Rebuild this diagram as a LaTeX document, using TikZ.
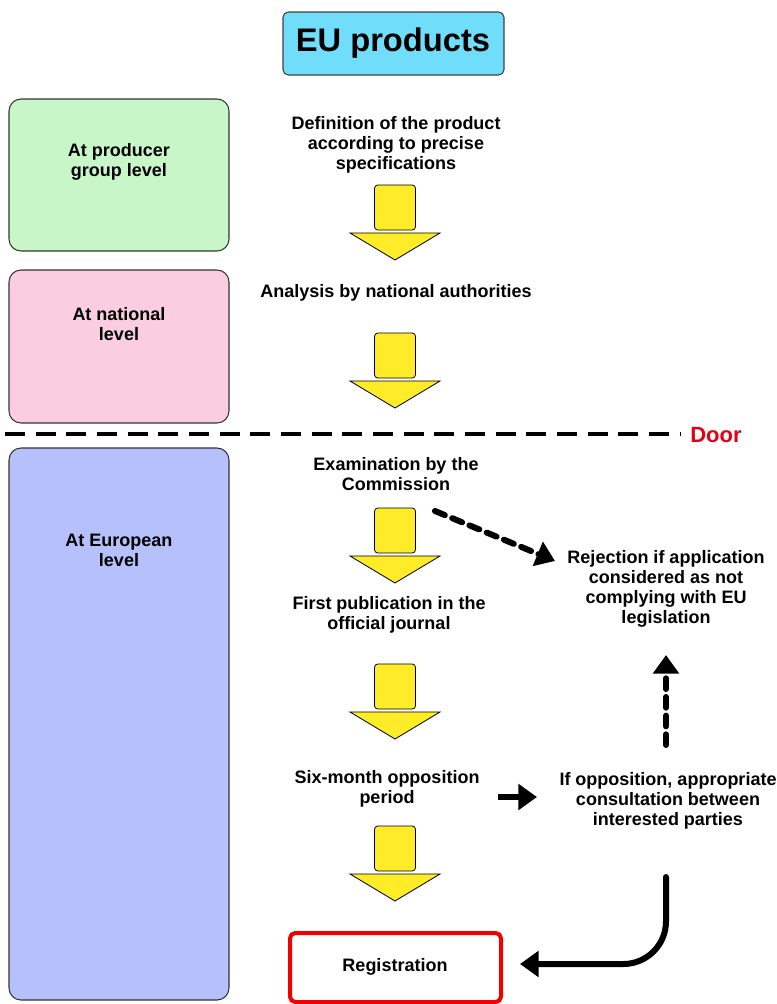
\documentclass[tikz,border=0pt]{standalone}
\usepackage{fontspec}
\setmainfont{Liberation Sans}
\usetikzlibrary{arrows.meta}
\definecolor{titlecyan}{RGB}{112,222,250}
\definecolor{grpgreen}{RGB}{200,246,200}
\definecolor{natpink}{RGB}{250,206,224}
\definecolor{eublue}{RGB}{182,192,250}
\definecolor{arrowyellow}{RGB}{255,236,40}
\definecolor{doorred}{RGB}{225,0,20}
\definecolor{regred}{RGB}{240,0,0}
\tikzset{
  txt/.style={font=\bfseries\fontsize{13.5}{15}\selectfont, align=center, inner sep=0pt},
  levelbox/.style={draw=black!80, line width=0.8pt, rounded corners=9pt},
  yrect/.style={draw=black, line width=0.6pt, fill=arrowyellow, rounded corners=2.5pt},
  ytri/.style={draw=black, line width=0.6pt, fill=arrowyellow},
  bigarrow/.style={line width=4.5pt, -{Triangle[length=14pt,width=19pt]}},
  dasharrow/.style={bigarrow, dash pattern=on 8pt off 6pt, line cap=round},
}
\newcommand{\yarrow}[2]{%
  \draw[yrect] (#1-20.5,#2) rectangle (#1+20.5,#2+45);
  \draw[ytri] (#1-45,#2+48) -- (#1+45,#2+48) -- (#1,#2+75) -- cycle;
}
\begin{document}
\begin{tikzpicture}[x=0.75pt,y=-0.75pt]
\useasboundingbox (0,0) rectangle (777,1004);
% title
\draw[draw=black!75, line width=0.8pt, fill=titlecyan, rounded corners=4pt] (283,12) rectangle (504,75);
\node[font=\bfseries\fontsize{24.5}{28}\selectfont, inner sep=0pt] (title) at (393,43) {EU products};
% level boxes
\draw[levelbox, fill=grpgreen] (9,99) rectangle (229,251);
\node[txt] (grp) at (119,162) {At producer\\group level};
\draw[levelbox, fill=natpink] (9,270) rectangle (229,423);
\node[txt] (nat) at (119,324) {At national\\level};
\draw[levelbox, fill=eublue] (9,448) rectangle (229,1000);
\node[txt] (eur) at (119,550) {At European\\level};
% door line
\coordinate (doorL) at (5,434);
\node[font=\bfseries\fontsize{16.5}{18}\selectfont, text=doorred, inner sep=0pt, anchor=west] (door) at (690,435) {Door};
\draw[line width=2.3pt, dash pattern=on 15pt off 8pt, shorten >=7pt] (doorL) -- (door.west |- doorL);
% steps
\node[txt] (def) at (396,145) {Definition of the product\\according to precise\\specifications};
\yarrow{395}{185}
\node[txt] (ana) at (396,293) {Analysis by national authorities};
\yarrow{395}{333}
\node[txt] (exa) at (396,474.5) {Examination by the\\Commission};
\yarrow{395}{508}
\node[txt] (pub) at (389,615) {First publication in the\\official journal};
\yarrow{395}{664}
\node[txt] (six) at (387,788.5) {Six-month opposition\\period};
\yarrow{395}{826}
\draw[draw=regred, line width=3pt, rounded corners=4pt] (290,933) rectangle (501,1002);
\node[txt] (reg) at (395,967) {Registration};
% right side
\node[txt] (rej) at (666,589) {Rejection if application\\considered as not\\complying with EU\\legislation};
\node[txt] (opp) at (668,801) {If opposition, appropriate\\consultation between\\interested parties};
% connectors
\coordinate (d1s) at (435,511);
\coordinate (d1e) at (555,561);
\draw[dasharrow] (d1s) -- (d1e);
\coordinate (d2s) at (666,745);
\coordinate (d2e) at (666,655);
\draw[dasharrow] (d2s) -- (d2e);
\coordinate (s1s) at (498,797);
\coordinate (s1e) at (537,797);
\draw[bigarrow] (s1s) -- (s1e);
\coordinate (c1) at (666,877);
\coordinate (c2) at (666,964);
\coordinate (c3) at (520,964);
\draw[bigarrow, line cap=round, rounded corners=32pt] (c1) -- (c2) -- (c3);
\end{tikzpicture}
\end{document}
